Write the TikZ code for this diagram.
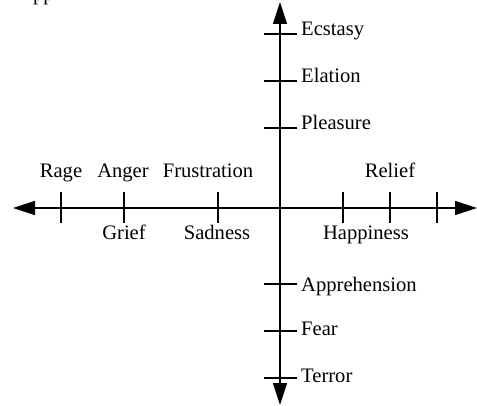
\documentclass[tikz,border=0pt]{standalone}
\usepackage{fontspec}
\setmainfont{Liberation Serif}
\usetikzlibrary{arrows.meta,positioning}
\tikzset{
  axis/.style={
    line width=1.4pt,
    {Triangle[length=22pt,width=14pt]}-{Triangle[length=22pt,width=14pt]}
  },
  tickthin/.style={
    line width=1.3pt
  },
  tickthick/.style={
    line width=2.2pt
  },
  lbl/.style={
    inner sep=0pt,
    font=\fontsize{20.6}{24}\selectfont
  }
}
\begin{document}
\begin{tikzpicture}[x=1pt, y=-1pt]
  \useasboundingbox (0,0) rectangle (477,406);
  \coordinate (west) at (13,208);
  \coordinate (east) at (477,208);
  \coordinate (north) at (280,2);
  \coordinate (south) at (280,405);

  \draw[axis] (west) -- (east);
  \draw[axis] (south) -- (north);

  % ticks on the horizontal axis
  \coordinate (rage) at (61,208);
  \coordinate (anger) at (124,208);
  \coordinate (frustration) at (218,208);
  \coordinate (happiness) at (343,208);
  \coordinate (relief) at (390,208);
  \coordinate (far) at (437,208);
  \draw[tickthick] ([yshift=16pt]rage) -- ([yshift=-15pt]rage);
  \draw[tickthin] ([yshift=16pt]anger) -- ([yshift=-15pt]anger);
  \draw[tickthick] ([yshift=16pt]frustration) -- ([yshift=-15pt]frustration);
  \draw[tickthin] ([yshift=16pt]happiness) -- ([yshift=-15pt]happiness);
  \draw[tickthin] ([yshift=16pt]relief) -- ([yshift=-15pt]relief);
  \draw[tickthick] ([yshift=16pt]far) -- ([yshift=-15pt]far);

  % ticks on the vertical axis
  \coordinate (ecstasy) at (280,34);
  \coordinate (elation) at (280,81);
  \coordinate (pleasure) at (280,128);
  \coordinate (apprehension) at (280,284);
  \coordinate (fear) at (280,331);
  \coordinate (terror) at (280,378);
  \draw[tickthick] ([xshift=-16pt]ecstasy) -- ([xshift=17pt]ecstasy);
  \draw[tickthick] ([xshift=-16pt]elation) -- ([xshift=17pt]elation);
  \draw[tickthin] ([xshift=-16pt]pleasure) -- ([xshift=17pt]pleasure);
  \draw[tickthick] ([xshift=-16pt]apprehension) -- ([xshift=17pt]apprehension);
  \draw[tickthick] ([xshift=-16pt]fear) -- ([xshift=17pt]fear);
  \draw[tickthin] ([xshift=-16pt]terror) -- ([xshift=17pt]terror);

  % labels
  \node[lbl, anchor=base] (ragelbl) at (61,178) {Rage};
  \node[lbl, anchor=base] (angerlbl) at (123,178) {Anger};
  \node[lbl, anchor=base] (frustrationlbl) at (208,178) {Frustration};
  \node[lbl, anchor=base] (relieflbl) at (390,178) {Relief};
  \node[lbl, anchor=base] (grieflbl) at (124,240) {Grief};
  \node[lbl, anchor=base] (sadnesslbl) at (217,240) {Sadness};
  \node[lbl, anchor=base] (happinesslbl) at (366,240) {Happiness};
  \node[lbl, anchor=base west] (ecstasylbl) at (301,36) {Ecstasy};
  \node[lbl, anchor=base west] (elationlbl) at (301,83) {Elation};
  \node[lbl, anchor=base west] (pleasurelbl) at (301,130) {Pleasure};
  \node[lbl, anchor=base west] (apprehensionlbl) at (301,292) {Apprehension};
  \node[lbl, anchor=base west] (fearlbl) at (301,336) {Fear};
  \node[lbl, anchor=base west] (terrorlbl) at (301,382) {Terror};
  \node[lbl, anchor=base west] (cutlbl) at (33,1) {pp};
\end{tikzpicture}
\end{document}
